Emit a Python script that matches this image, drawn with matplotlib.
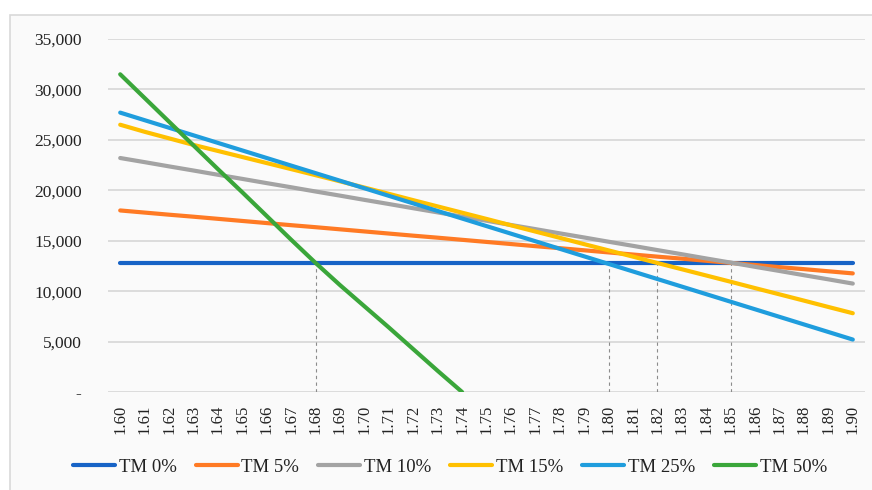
"""Break-even chart: TM scenarios vs price."""

import matplotlib.pyplot as plt
import numpy as np
from matplotlib.patches import Rectangle
from matplotlib.ticker import FuncFormatter

plt.rcParams["font.family"] = ["Liberation Serif", "DejaVu Serif"]

prices = [f"{1.60 + 0.01 * i:.2f}" for i in range(31)]

tm_0 = [12800] * 31
tm_5 = [18000, 17790, 17580, 17380, 17170, 16960, 16750, 16540, 16340, 16130, 15920,
        15710, 15500, 15300, 15090, 14880, 14670, 14460, 14260, 14050, 13840,
        13630, 13420, 13220, 13010, 12800, 12590, 12380, 12180, 11970, 11760]
tm_10 = [23200, 22790, 22370, 21960, 21540, 21130, 20710, 20300, 19880, 19470, 19050,
         18640, 18220, 17810, 17390, 16980, 16560, 16150, 15730, 15320, 14900,
         14490, 14070, 13660, 13240, 12830, 12410, 12000, 11580, 11170, 10750]
tm_15 = [26500, 25800, 25150, 24500, 23900, 23300, 22700, 22100, 21500, 20890, 20270,
         19650, 19020, 18400, 17780, 17160, 16530, 15910, 15290, 14660, 14040,
         13420, 12790, 12170, 11550, 10930, 10300, 9680, 9060, 8430, 7810]
tm_25 = [27700, 26950, 26200, 25450, 24700, 23950, 23200, 22450, 21700, 20950, 20200,
         19450, 18700, 17950, 17200, 16450, 15700, 14950, 14200, 13450, 12700,
         11950, 11200, 10450, 9700, 8950, 8200, 7450, 6700, 5950, 5200]
tm_50 = [31500, 29150, 26800, 24450, 22100, 19800, 17450, 15100, 12800, 10600, 8500,
         6400, 4250, 2100, 0] + [np.nan] * 16

series = [
    ("TM 0%", tm_0, "#1763c6"),
    ("TM 5%", tm_5, "#ff7a24"),
    ("TM 10%", tm_10, "#a3a3a3"),
    ("TM 15%", tm_15, "#ffc000"),
    ("TM 25%", tm_25, "#1f9ddd"),
    ("TM 50%", tm_50, "#3aa63a"),
]

fig = plt.figure(figsize=(8.72, 4.9), dpi=100)
fig.patches.append(Rectangle((10 / 872, -0.01), 1.0, 1 - 15 / 490 + 0.01,
                             transform=fig.transFigure, facecolor="#fafafa",
                             edgecolor="#d9d9d9", linewidth=1.2, zorder=-10))
ax = fig.add_axes([108 / 872, 1 - 392 / 490, (865 - 108) / 872, (392 - 39) / 490])
ax.set_facecolor("none")

x = np.arange(len(prices))

# dashed drop lines where each scenario meets the flat TM 0% line
base = np.array(tm_0, dtype=float)
cross = set()
for name, vals, _ in series[1:]:
    diff = np.abs(np.array(vals, dtype=float) - base)
    cross.add(int(np.nanargmin(diff)))
for i in sorted(cross):
    ax.vlines(x[i], 0, base[i], colors="#8c8c8c", linestyles=(0, (3, 3)),
              linewidth=0.8, zorder=1)

for name, vals, color in series:
    ax.plot(x, vals, color=color, linewidth=3, label=name, zorder=3,
            solid_capstyle="round")

ax.set_xlim(-0.5, len(prices) - 0.5)
ax.set_ylim(0, 35000)
ax.set_yticks(np.arange(0, 35001, 5000))
ax.yaxis.set_major_formatter(FuncFormatter(lambda v, p: "-" if v == 0 else f"{v:,.0f}"))
ax.set_xticks(x)
ax.set_xticklabels(prices, rotation=90)
ax.tick_params(axis="y", length=0, pad=19, labelsize=12.5, colors="#222222")
ax.tick_params(axis="x", length=0, pad=9, labelsize=12, colors="#222222")
ax.grid(axis="y", color="#d6d6d6", linewidth=1.2, zorder=0)
ax.set_axisbelow(True)
for s in ax.spines.values():
    s.set_visible(False)

fig.legend(loc="center", bbox_to_anchor=(450 / 872, 1 - 467 / 490), ncol=6,
           frameon=False, fontsize=13.5, handlelength=2.25, handletextpad=0.2,
           columnspacing=1.0, labelcolor="#222222")

fig.savefig("out.png", dpi=100, facecolor="white")
